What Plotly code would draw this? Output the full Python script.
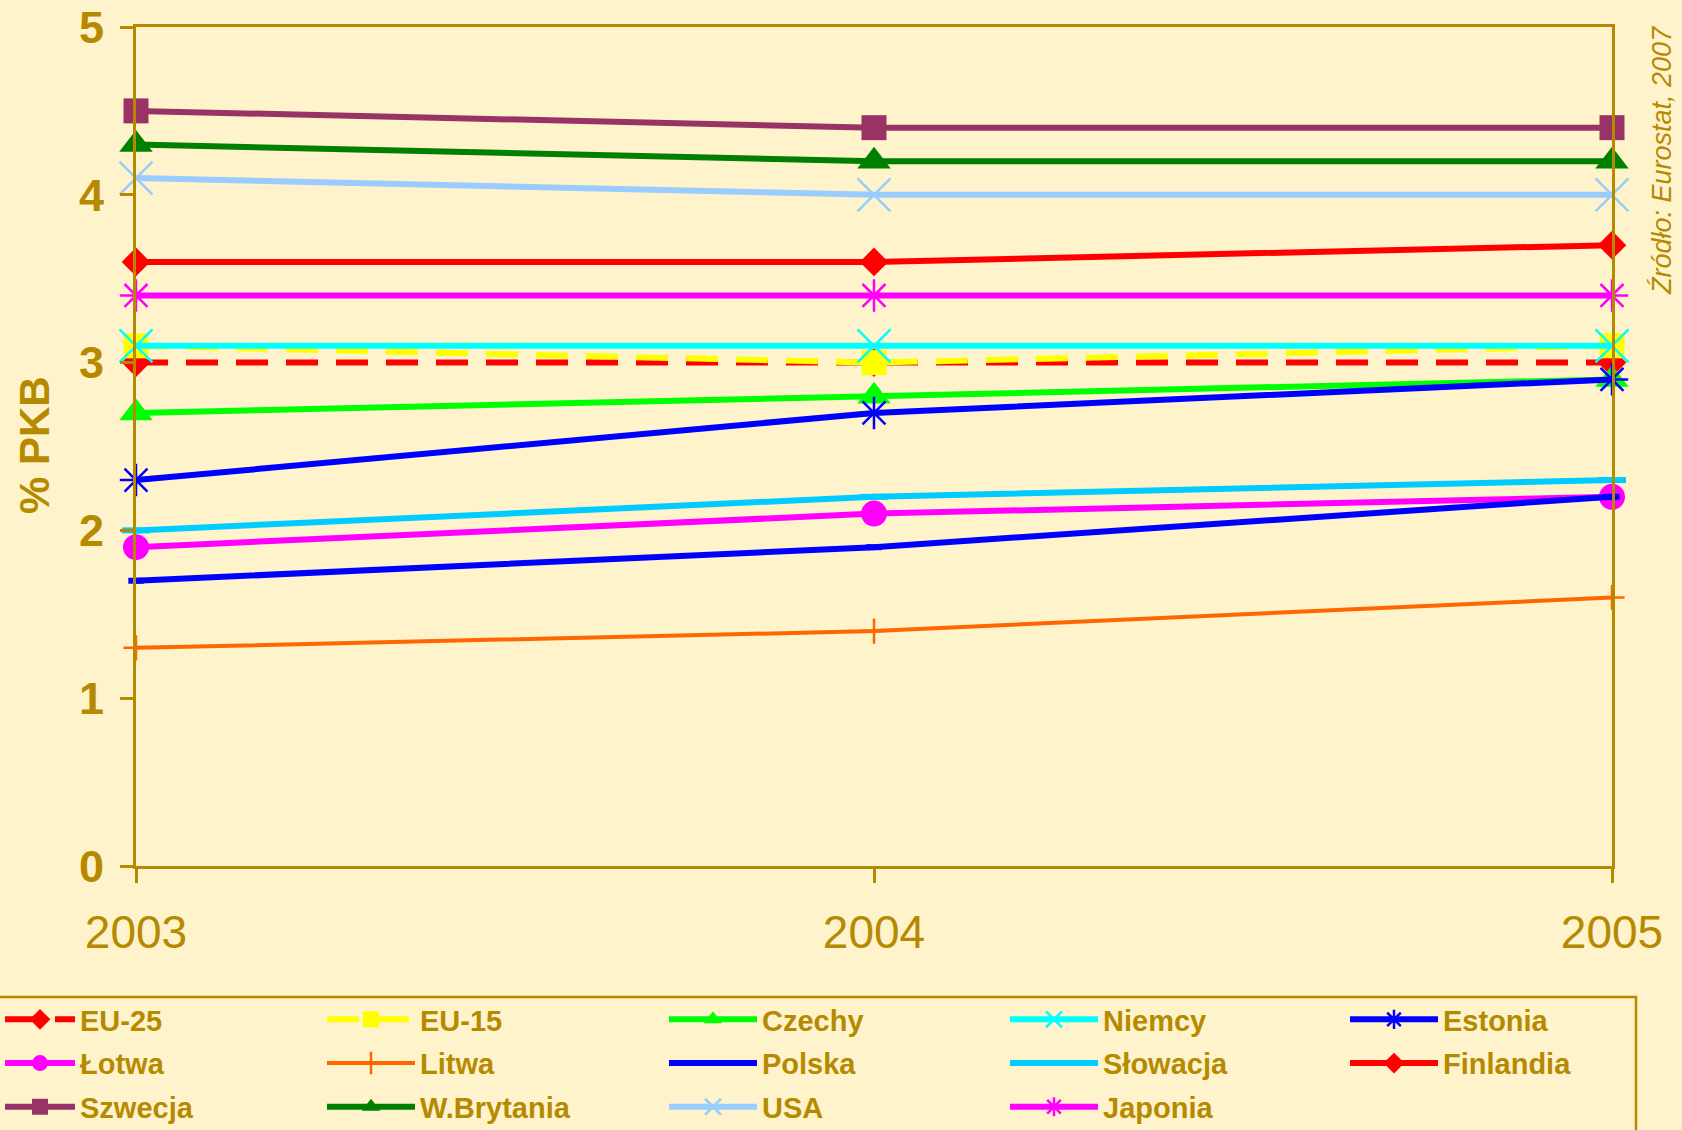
import plotly.graph_objects as go

years = [2003, 2004, 2005]

names = ["EU-25", "EU-15", "Czechy", "Niemcy", "Estonia", "Łotwa", "Litwa",
         "Polska", "Słowacja", "Finlandia", "Szwecja", "W.Brytania", "USA", "Japonia"]

eu25 = [3.0, 3.0, 3.0]
eu15 = [3.1, 3.0, 3.1]
czechy = [2.7, 2.8, 2.9]
niemcy = [3.1, 3.1, 3.1]
estonia = [2.3, 2.7, 2.9]
lotwa = [1.9, 2.1, 2.2]
litwa = [1.3, 1.4, 1.6]
polska = [1.7, 1.9, 2.2]
slowacja = [2.0, 2.2, 2.3]
finlandia = [3.6, 3.6, 3.7]
szwecja = [4.5, 4.4, 4.4]
wbrytania = [4.3, 4.2, 4.2]
usa = [4.1, 4.0, 4.0]
japonia = [3.4, 3.4, 3.4]

values = [eu25, eu15, czechy, niemcy, estonia, lotwa, litwa,
          polska, slowacja, finlandia, szwecja, wbrytania, usa, japonia]

GOLD = "#B58A00"
BG = "#FFF3CB"

# styles: color, line width, dash, marker symbol, marker size, open?
styles = [
    ("#FF0000", 6, "32px,18px", "diamond", 22, False),
    ("#FFFF00", 6, "32px,18px", "square", 25, False),
    ("#00FF00", 6, "solid", "triangle-up", 29, False),
    ("#00FFFF", 6, "solid", "x-thin-open", 33, True),
    ("#0000FF", 6, "solid", "asterisk-open", 27, True),
    ("#FF00FF", 6, "solid", "circle", 26, False),
    ("#FF6600", 4, "solid", "cross-thin-open", 18, True),
    ("#0000FF", 6, "solid", "line-ew-open", 11, True),
    ("#00CCFF", 6, "solid", "line-ew-open", 20, True),
    ("#FF0000", 6, "solid", "diamond", 22, False),
    ("#993366", 6, "solid", "square", 25, False),
    ("#008000", 6, "solid", "triangle-up", 29, False),
    ("#99CCFF", 6, "solid", "x-thin-open", 33, True),
    ("#FF00FF", 6, "solid", "asterisk-open", 27, True),
]

legend_of = ["legend", "legend2", "legend3", "legend4", "legend5"]

fig = go.Figure()
for i, (name, vals) in enumerate(zip(names, values)):
    color, lw, dash, sym, msize, is_open = styles[i]
    marker = dict(symbol=sym, size=msize, color=color)
    if is_open:
        marker["line"] = dict(color=color, width=2.5 if sym != "line-ew-open" else 6)
    else:
        marker["line"] = dict(width=0)
    fig.add_trace(go.Scatter(
        x=years, y=vals, name=name, mode="lines+markers",
        line=dict(color=color, width=lw, dash=dash),
        marker=marker, cliponaxis=False,
        legend=legend_of[i % 5], legendgroup=name,
    ))

L, R, T, B = 136, 70, 27, 264
W, H = 1682, 1130
pw = W - L - R
ph = H - T - B

legend_common = dict(
    xref="container", yref="container", xanchor="left", yanchor="top",
    bgcolor="rgba(0,0,0,0)", borderwidth=0, orientation="v",
    font=dict(family="Liberation Sans, Arial, sans-serif", size=29, color=GOLD, weight="bold"),
    tracegroupgap=3, traceorder="grouped",
)
col_x = [0, 322, 664, 1005, 1345]
col_itemwidth = [70, 88, 88, 88, 88]
legend_top = 994
layout_legends = {}
for k, lg in enumerate(legend_of):
    d = dict(legend_common)
    d["x"] = col_x[k] / W
    d["y"] = 1 - legend_top / H
    d["itemwidth"] = col_itemwidth[k]
    layout_legends[lg] = d

fig.update_layout(
    width=W, height=H,
    margin=dict(l=L, r=R, t=T, b=B, autoexpand=False),
    paper_bgcolor=BG, plot_bgcolor=BG,
    font=dict(family="Liberation Sans, Arial, sans-serif", color=GOLD),
    showlegend=True,
    **layout_legends,
)

fig.update_xaxes(
    range=[2003, 2005], tickvals=years, ticktext=[str(y) for y in years],
    showgrid=False, zeroline=False, showline=True, linecolor=GOLD, linewidth=3,
    mirror=True, ticks="outside", ticklen=14, tickwidth=3, tickcolor=GOLD,
    tickfont=dict(family="Liberation Sans, Arial, sans-serif", size=46, color=GOLD),
    ticklabelstandoff=10, automargin=False,
)
fig.update_yaxes(
    range=[0, 5], tickvals=[0, 1, 2, 3, 4, 5],
    showgrid=False, zeroline=False, showline=True, linecolor=GOLD, linewidth=3,
    mirror=True, ticks="outside", ticklen=13, tickwidth=3, tickcolor=GOLD,
    tickfont=dict(family="Liberation Sans, Arial, sans-serif", size=45, color=GOLD, weight="bold"),
    ticklabelstandoff=7, automargin=False,
)

# y-axis title
fig.add_annotation(
    text="% PKB", xref="paper", yref="paper",
    x=(35 - L) / pw, y=(H - B - 445) / ph, xanchor="center", yanchor="middle",
    textangle=-90, showarrow=False,
    font=dict(family="Liberation Sans, Arial, sans-serif", size=42, color=GOLD, weight="bold"),
)

# legend frame
fig.add_shape(
    type="rect", xref="paper", yref="paper",
    x0=(-10 - L) / pw, x1=(1636 - L) / pw,
    y0=(H - B - 997) / ph, y1=(H - B - 1150) / ph,
    line=dict(color=GOLD, width=2.5), fillcolor="rgba(0,0,0,0)", layer="below",
)

fig.add_annotation(
    text="Źródło: Eurostat, 2007", xref="paper", yref="paper",
    x=(1662 - L) / pw, y=(H - B - 160) / ph, xanchor="center", yanchor="middle",
    textangle=-90, showarrow=False,
    font=dict(family="Liberation Sans, Arial, sans-serif", size=27, color=GOLD, style="italic"),
)

fig.write_html("out.html", config={"displayModeBar": False},
               post_script="document.body.style.margin='0';")
